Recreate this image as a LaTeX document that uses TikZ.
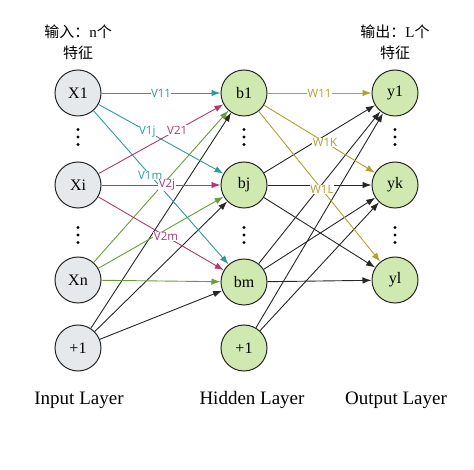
\documentclass[tikz,border=0pt]{standalone}
\usepackage{fontspec}
\setmainfont{Liberation Serif}
\newfontfamily\cjk{Noto Sans CJK SC}
\newfontfamily\edgefont{Open Sans}
\usetikzlibrary{arrows,arrows.meta,shapes,positioning}

\definecolor{inputfill}{HTML}{E6E9EC}
\definecolor{greenfill}{HTML}{CFE9B0}
\definecolor{tealline}{HTML}{2F9A9A}
\definecolor{pinkline}{HTML}{B3386F}
\definecolor{greenline}{HTML}{6A9C3A}
\definecolor{oliveline}{HTML}{B49E2C}

\newcommand{\vdotsat}[1]{\foreach \d in {-7.5,0,7.5} \fill (#1) ++(0,\d) circle (1.7pt);}

\begin{document}
\begin{tikzpicture}[x=1pt, y=1pt]
      % Define block styles
      \tikzstyle{neuron} = [circle, draw=black!85, line width=1pt, minimum size=46pt, inner sep=0pt, font=\fontsize{16}{16}\selectfont]
      \tikzstyle{innode} = [neuron, fill=inputfill]
      \tikzstyle{gnode} = [neuron, fill=greenfill]
      \tikzstyle{line} = [draw, line width=0.9pt, -{Latex[length=9pt,width=6.5pt]}]
      \tikzstyle{wlabel} = [fill=white, inner sep=0.5pt, font=\edgefont\fontsize{11.5}{11.5}\selectfont]
      \tikzstyle{layer} = [font=\fontsize{19}{19}\selectfont]
      \tikzstyle{title} = [align=center, font=\fontsize{15}{21}\selectfont]

      \useasboundingbox (0,0) rectangle (474,-470);

      % Place blocks
      \node [innode] (x1) at (78,-93) {X1};
      \node [innode, below of=x1, node distance=92pt] (xi) {Xi};
      \node [innode, below of=xi, node distance=95pt] (xn) {Xn};
      \node [innode, below of=xn, node distance=68pt] (xb) {+1};

      \node [gnode, right of=x1, node distance=166pt] (b1) {b1};
      \node [gnode, below of=b1, node distance=92pt] (bj) {bj};
      \node [gnode, below of=bj, node distance=97pt] (bm) {bm};
      \node [gnode, below of=bm, node distance=66pt] (hb) {+1};

      \node [gnode, right of=b1, node distance=151pt] (y1) {y1};
      \node [gnode, below of=y1, node distance=92pt] (yk) {yk};
      \node [gnode, below of=yk, node distance=95pt] (yl) {yl};

      % Dots
      \vdotsat{78,-137}
      \vdotsat{78,-235}
      \vdotsat{244,-137}
      \vdotsat{244,-235}
      \vdotsat{395,-137}
      \vdotsat{395,-235}

      % Titles
      \node [title] (intitle) at (78,-42) {{\cjk 输入：}n{\cjk 个}\\{\cjk 特征}};
      \node [title] (outtitle) at (395,-42) {{\cjk 输出：}L{\cjk 个}\\{\cjk 特征}};
      \node [layer] (inlayer) at (79,-400) {Input Layer};
      \node [layer] (hidlayer) at (252,-400) {Hidden Layer};
      \node [layer] (outlayer) at (396,-400) {Output Layer};

      % Draw lines
      \path [line, black!85] (xb) -- (b1);
      \path [line, black!85] (xb) -- (bj);
      \path [line, black!85] (xb) -- (bm);
      \path [line, greenline] (xn) -- (b1);
      \path [line, greenline] (xn) -- (bj);
      \path [line, greenline] (xn) -- (bm);
      \path [line, tealline] (x1) -- node[wlabel, pos=0.5] {V11} (b1);
      \path [line, tealline] (x1) -- node[wlabel, pos=0.39] {V1j} (bj);
      \path [line, tealline] (x1) -- node[wlabel, pos=0.42] {V1m} (bm);
      \path [line, pinkline] (xi) -- node[wlabel, pos=0.63] {V21} (b1);
      \path [line, pinkline] (xi) -- node[wlabel, pos=0.55] {V2j} (bj);
      \path [line, pinkline] (xi) -- node[wlabel, pos=0.54] {V2m} (bm);

      \path [line, black!85] (hb) -- (y1);
      \path [line, black!85] (hb) -- (yk);
      \path [line, black!85] (bm) -- (y1);
      \path [line, black!85] (bm) -- (yk);
      \path [line, black!85] (bm) -- (yl);
      \path [line, black!85] (bj) -- (y1);
      \path [line, black!85] (bj) -- (yk);
      \path [line, black!85] (bj) -- (yl);
      \path [line, oliveline] (b1) -- node[wlabel, pos=0.5] {W11} (y1);
      \path [line, oliveline] (b1) -- node[wlabel, pos=0.55] {W1K} (yk);
      \path [line, oliveline] (b1) -- node[wlabel, pos=0.52] {W1L} (yl);
    \end{tikzpicture}
\end{document}
